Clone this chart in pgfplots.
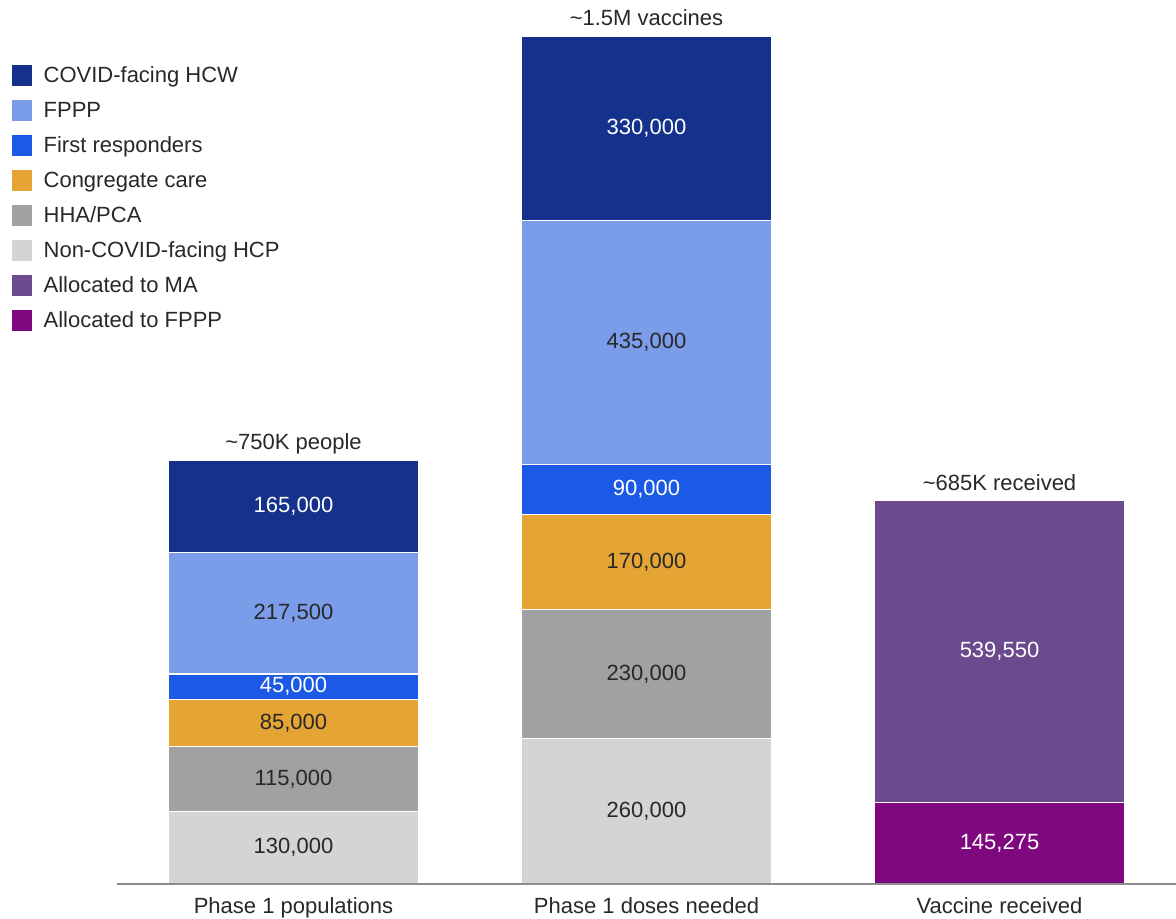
\documentclass[border=0pt]{standalone}
\usepackage{fontspec}
\setmainfont{Liberation Sans}
\usepackage{pgfplots}
\pgfplotsset{compat=1.18}
\usepackage{pgfplotstable}

\definecolor{covidhcw}{RGB}{20,50,140}
\definecolor{fppp}{RGB}{123,156,232}
\definecolor{firstresp}{RGB}{27,89,230}
\definecolor{congcare}{RGB}{229,165,52}
\definecolor{hhapca}{RGB}{160,161,163}
\definecolor{noncovid}{RGB}{212,212,212}
\definecolor{allocma}{RGB}{107,74,142}
\definecolor{allocfppp}{RGB}{126,8,126}
\definecolor{textdark}{RGB}{40,40,40}
\definecolor{axisgray}{RGB}{140,140,140}

% one row per bar, segments from the bottom up
\pgfplotstableread{
x allocfppp allocma nonhcp hha cong first fppp covid
0 0      0      130000 115000 85000  45000 217500 165000
1 0      0      260000 230000 170000 90000 435000 330000
2 145275 539550 0      0      0      0     0      0
}\dosesdata

\pgfplotsset{
  common/.style={
    at={(58.5pt,17.5pt)}, anchor=south west,
    scale only axis, width=529.5pt, height=424pt,
    xmin=-0.5, xmax=2.5, ymin=0, ymax=1515000,
    clip=false,
  },
}

\begin{document}
\fontsize{11}{13}\selectfont
\begin{tikzpicture}
\useasboundingbox (0,0) rectangle (588pt,459.5pt);
\begin{axis}[
  common,
  ybar stacked,
  bar width=0.708,
  axis on top,
  axis x line=bottom,
  axis y line=none,
  x axis line style={draw=axisgray, line width=1pt, -},
  xtick={0,1,2},
  xticklabels={Phase 1 populations, Phase 1 doses needed, Vaccine received},
  xtick style={draw=none},
  xticklabel style={text=textdark, inner sep=0pt, yshift=-4.5pt},
  ytick=\empty,
  reverse legend,
  legend cell align=left,
  legend image code/.code={\fill[#1] (0pt,-5.5pt) rectangle (11pt,5.5pt);},
  legend style={
    at={(-0.101,0.968)}, anchor=north west,
    draw=none, fill=none, inner sep=0pt,
    row sep=5.95pt, column sep=5pt,
    nodes={inner sep=0pt, text=textdark, text height=9pt, text depth=2pt},
    font=\fontsize{11}{13}\selectfont,
  },
]
\addplot[fill=allocfppp, draw=white, line width=0.6pt] table[x=x, y=allocfppp] {\dosesdata};
\addlegendentry{Allocated to FPPP}
\addplot[fill=allocma, draw=white, line width=0.6pt] table[x=x, y=allocma] {\dosesdata};
\addlegendentry{Allocated to MA}
\addplot[fill=noncovid, draw=white, line width=0.6pt] table[x=x, y=nonhcp] {\dosesdata};
\addlegendentry{Non-COVID-facing HCP}
\addplot[fill=hhapca, draw=white, line width=0.6pt] table[x=x, y=hha] {\dosesdata};
\addlegendentry{HHA/PCA}
\addplot[fill=congcare, draw=white, line width=0.6pt] table[x=x, y=cong] {\dosesdata};
\addlegendentry{Congregate care}
\addplot[fill=firstresp, draw=white, line width=0.6pt] table[x=x, y=first] {\dosesdata};
\addlegendentry{First responders}
\addplot[fill=fppp, draw=white, line width=0.6pt] table[x=x, y=fppp] {\dosesdata};
\addlegendentry{FPPP}
\addplot[fill=covidhcw, draw=white, line width=0.6pt] table[x=x, y=covid] {\dosesdata};
\addlegendentry{COVID-facing HCW}
\end{axis}

% value labels at segment middles, totals above the bars
\begin{axis}[common, hide axis]
\addplot[draw=none, mark=none, nodes near coords, point meta=explicit symbolic,
  nodes near coords style={anchor=center, inner sep=0pt, text=white, font=\fontsize{11}{13}\selectfont}]
  coordinates {
    (0,675000) [165,000]
    (0,352500) [45,000]
    (1,1350000) [330,000]
    (1,705000) [90,000]
    (2,415050) [539,550]
    (2,72637.5) [145,275]
  };
\addplot[draw=none, mark=none, nodes near coords, point meta=explicit symbolic,
  nodes near coords style={anchor=center, inner sep=0pt, text=textdark, font=\fontsize{11}{13}\selectfont}]
  coordinates {
    (0,483750) [217,500]
    (0,287500) [85,000]
    (0,187500) [115,000]
    (0,65000) [130,000]
    (1,967500) [435,000]
    (1,575000) [170,000]
    (1,375000) [230,000]
    (1,130000) [260,000]
  };
\addplot[draw=none, mark=none, nodes near coords, point meta=explicit symbolic,
  nodes near coords style={anchor=base, inner sep=0pt, yshift=5pt, text=textdark, font=\fontsize{11}{13}\selectfont}]
  coordinates {
    (0,757500) [\textasciitilde750K people]
    (1,1515000) [\textasciitilde1.5M vaccines]
    (2,684825) [\textasciitilde685K received]
  };
\end{axis}
\end{tikzpicture}
\end{document}
